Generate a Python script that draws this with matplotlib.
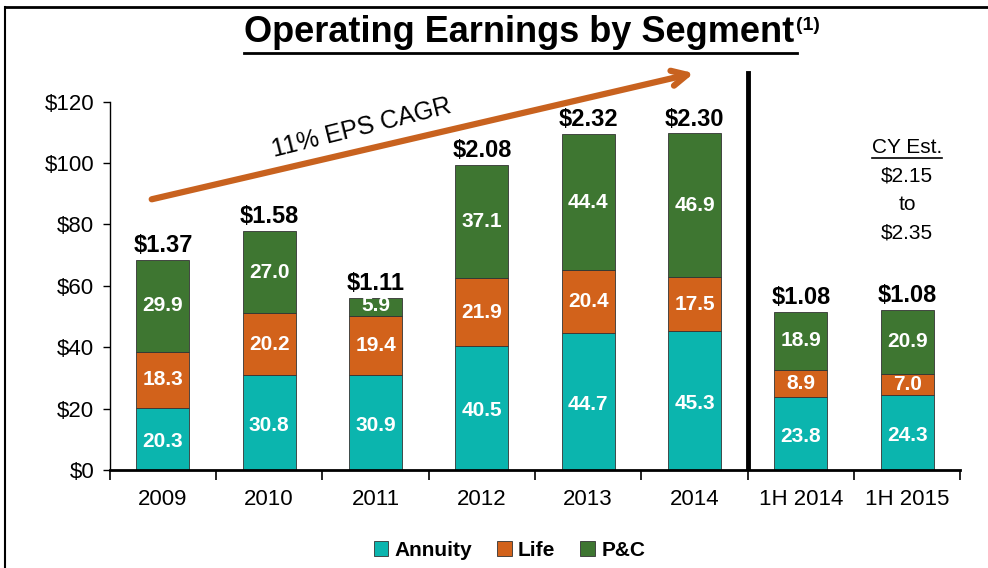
import matplotlib
matplotlib.use("Agg")
import matplotlib.pyplot as plt
from matplotlib.lines import Line2D
import numpy as np

plt.rcParams['font.family'] = ['Liberation Sans Narrow', 'Liberation Sans', 'DejaVu Sans']

categorias = ["2009", "2010", "2011", "2012", "2013", "2014", "1H 2014", "1H 2015"]
annuity = [20.3, 30.8, 30.9, 40.5, 44.7, 45.3, 23.8, 24.3]
life = [18.3, 20.2, 19.4, 21.9, 20.4, 17.5, 8.9, 7.0]
pyc = [29.9, 27.0, 5.9, 37.1, 44.4, 46.9, 18.9, 20.9]
eps = ["$1.37", "$1.58", "$1.11", "$2.08", "$2.32", "$2.30", "$1.08", "$1.08"]
cy_est = ["$2.15", "to", "$2.35"]

c_annuity = "#0BB5AE"
c_life = "#D2621B"
c_pyc = "#3E7631"


def grafico():
    fig = plt.figure(figsize=(9.88, 5.68), dpi=100)
    ax = fig.add_axes([0.111, 0.1725, 0.861, 0.7025])

    x = np.arange(len(categorias))
    a = np.array(annuity)
    l = np.array(life)
    p = np.array(pyc)

    ax.bar(x, a, 0.5, color=c_annuity, edgecolor="#333333", linewidth=0.6, label="Annuity")
    ax.bar(x, l, 0.5, bottom=a, color=c_life, edgecolor="#333333", linewidth=0.6, label="Life")
    ax.bar(x, p, 0.5, bottom=a + l, color=c_pyc, edgecolor="#333333", linewidth=0.6, label="P&C")

    # etiquetas de cada segmento
    for i in x:
        ax.text(i, a[i] / 2 - 1, f"{a[i]:.1f}", ha="center", va="center", color="white",
                fontsize=15, fontweight="bold")
        ax.text(i, a[i] + l[i] / 2, f"{l[i]:.1f}", ha="center", va="center", color="white",
                fontsize=15, fontweight="bold")
        yp = a[i] + l[i] + p[i] / 2
        if p[i] < 10:
            yp = a[i] + l[i] + p[i] / 2 + 0.3
        ax.text(i, yp, f"{p[i]:.1f}", ha="center", va="center", color="white",
                fontsize=15, fontweight="bold")
        ax.text(i, a[i] + l[i] + p[i] + 0.8, eps[i], ha="center", va="bottom",
                fontsize=17, fontweight="bold")

    ax.set_xlim(-0.5, 7.5)
    ax.set_ylim(0, 130)
    ax.set_yticks(range(0, 121, 20))
    ax.set_yticklabels([f"${v}" for v in range(0, 121, 20)], fontsize=16)
    ax.set_xticks(np.arange(-0.5, 7.6, 1))
    ax.set_xticklabels([])
    ax.set_xticks(x, minor=True)
    ax.set_xticklabels(categorias, minor=True, fontsize=16)
    ax.tick_params(axis="x", which="major", direction="out", length=7, width=1.2)
    ax.tick_params(axis="x", which="minor", length=0, pad=14)
    ax.tick_params(axis="y", direction="out", length=5, width=1, pad=6)
    ax.spines["top"].set_visible(False)
    ax.spines["right"].set_visible(False)
    ax.spines["bottom"].set_linewidth(2)
    ax.spines["left"].set_linewidth(1)
    ax.spines["left"].set_bounds(0, 120)

    # linea separadora
    ax.axvline(5.5, color="black", linewidth=3.5, ymin=0, ymax=0.995)

    # flecha de crecimiento
    ax.annotate("", xy=(5.02, 129.5), xytext=(-0.13, 88),
                arrowprops=dict(arrowstyle="->,head_length=1.1,head_width=0.55",
                                color="#C8621F", linewidth=4.5), annotation_clip=False)
    ax.text(1.87, 111.5, "11% EPS CAGR", rotation=14, ha="center", va="center", fontsize=18)

    # estimacion
    t_cy = ax.text(7.0, 105, "CY Est.", ha="center", va="center", fontsize=15)
    for k, s in enumerate(cy_est):
        ax.text(7.0, 95.7 - k * 9.2, s, ha="center", va="center", fontsize=15)

    ax.legend(loc="upper center", bbox_to_anchor=(0.47, -0.13), ncol=3, frameon=False,
              prop={"weight": "bold", "size": 15}, handlelength=0.7, handleheight=0.7,
              handletextpad=0.3, columnspacing=1.2)

    titulo = fig.text(0.525, 0.942, "Operating Earnings by Segment", ha="center", va="center",
                      fontsize=26, fontweight="bold")
    fig.canvas.draw()
    r = fig.canvas.get_renderer()
    bb = titulo.get_window_extent(r)
    W, H = fig.bbox.width, fig.bbox.height
    fig.text(bb.x1 / W + 0.002, bb.y1 / H - 0.003, "(1)", ha="left", va="top",
             fontsize=14, fontweight="bold")
    fig.add_artist(Line2D([bb.x0 / W, (bb.x1 + 3) / W], [(bb.y0 - 3) / H] * 2,
                          color="black", linewidth=2))
    bb2 = t_cy.get_window_extent(r)
    fig.add_artist(Line2D([bb2.x0 / W, bb2.x1 / W], [(bb2.y0 - 1) / H] * 2,
                          color="black", linewidth=1.2))

    # marco
    fig.add_artist(Line2D([5 / 988, 5 / 988], [0, 1 - 7 / 568], color="black", linewidth=1.5))
    fig.add_artist(Line2D([5 / 988, 1], [1 - 7 / 568] * 2, color="black", linewidth=2))

    fig.savefig("out.png", dpi=100)


if __name__ == "__main__":
    grafico()
